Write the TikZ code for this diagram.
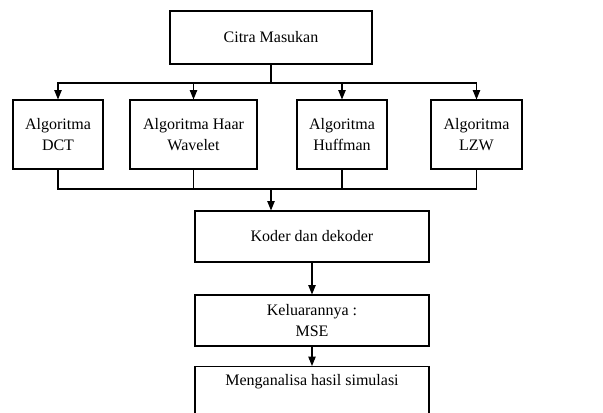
\documentclass[tikz,border=0pt]{standalone}
\usepackage{fontspec}
\setmainfont{Liberation Serif}
\usetikzlibrary{arrows.meta}

\tikzset{
  box/.style={draw, line width=0.8pt, align=center, inner sep=2pt,
    font=\fontsize{12pt}{15.5pt}\selectfont},
  link/.style={line width=0.8pt},
  arrow/.style={link, -{Triangle[length=7pt,width=5.5pt]}}
}

\begin{document}
\begin{tikzpicture}[x=0.75pt,y=-0.75pt]
    \clip (0,0) rectangle (603,412);

    \node[box, minimum width=151.5pt, minimum height=39.75pt] at (271,37.5) (input) {Citra Masukan};

    \node[box, minimum width=67.5pt, minimum height=51.75pt] at (58,134.5) (dct) {Algoritma\\DCT};
    \node[box, minimum width=95.25pt, minimum height=51.75pt] at (193.5,134.5) (haar) {Algoritma Haar\\Wavelet};
    \node[box, minimum width=67.5pt, minimum height=51.75pt] at (342,134.5) (huffman) {Algoritma\\Huffman};
    \node[box, minimum width=68.25pt, minimum height=51.75pt] at (476.5,134.5) (lzw) {Algoritma\\LZW};

    \node[box, minimum width=175.5pt, minimum height=38.25pt] at (312,236.5) (koder) {Koder dan dekoder};
    \node[box, minimum width=175.5pt, minimum height=38.25pt] at (312,320.5) (mse) {Keluarannya :\\MSE};
    \node[box, minimum width=175.5pt, anchor=north, inner ysep=4pt, text height=10pt, text depth=40pt] at (312,366) (analisa) {Menganalisa hasil simulasi};

    \coordinate (split) at (271,83);
    \coordinate (merge) at (271,189);

    \draw[link] (input.south) -- (split);
    \draw[arrow] (split) -| (dct.north);
    \draw[arrow] (split) -| (haar.north);
    \draw[arrow] (split) -| (huffman.north);
    \draw[arrow] (split) -| (lzw.north);

    \draw[link] (dct.south) |- (merge);
    \draw[link] (haar.south) |- (merge);
    \draw[link] (huffman.south) |- (merge);
    \draw[link] (lzw.south) |- (merge);
    \draw[arrow] (merge) -- (merge |- koder.north);

    \draw[arrow] (koder) -- (mse);
    \draw[arrow] (mse) -- (analisa);
\end{tikzpicture}
\end{document}
